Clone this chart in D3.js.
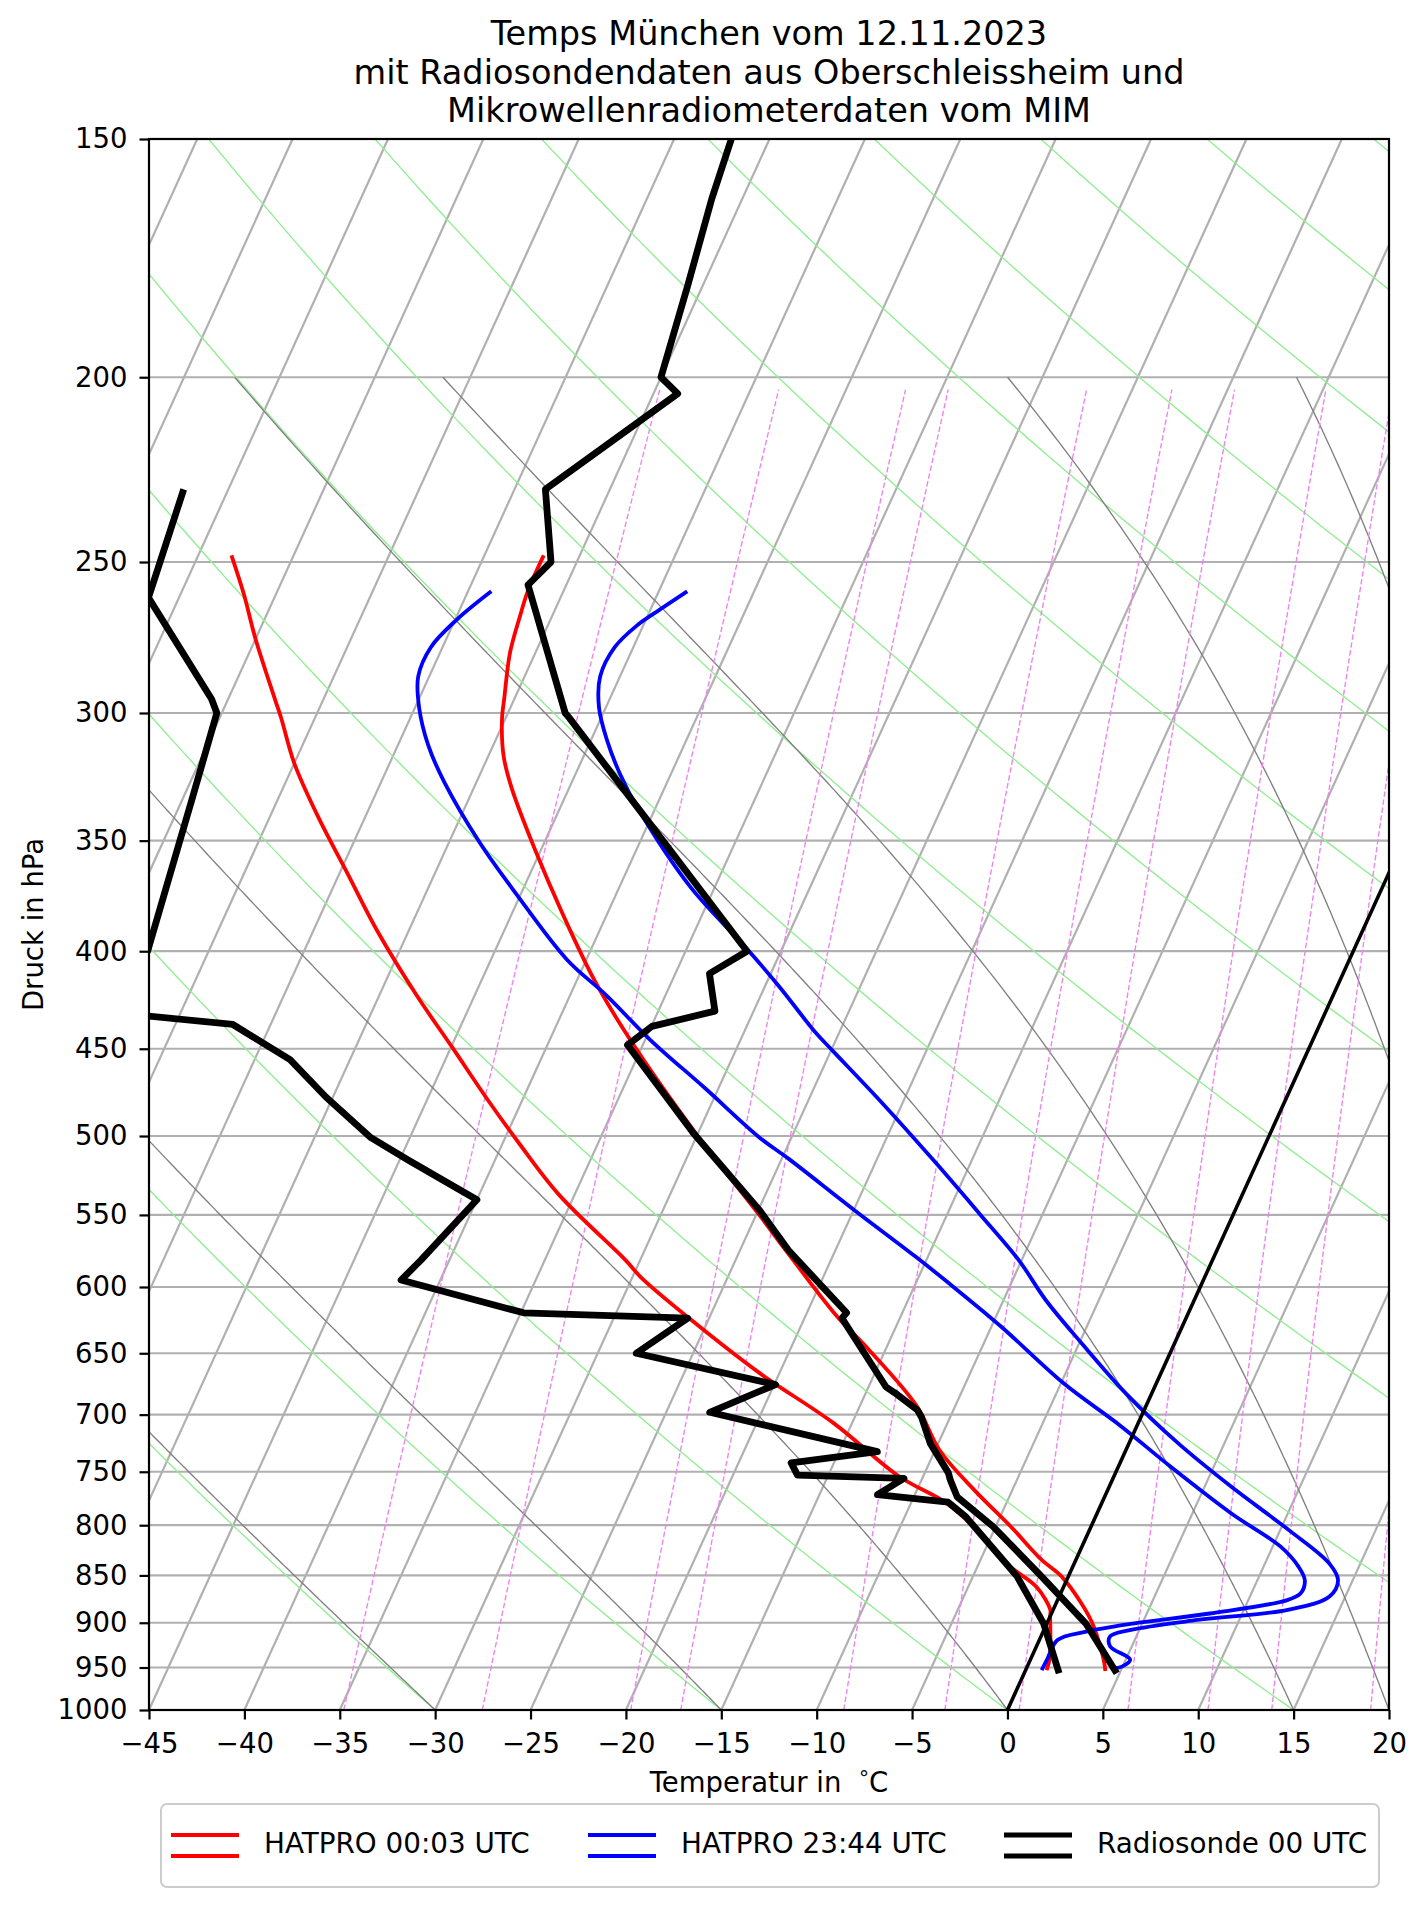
<!DOCTYPE html>
<html><head><meta charset="utf-8">
<script src="https://cdn.jsdelivr.net/npm/d3@7"></script>
<style>
body{margin:0;background:#fff;}
text{font-family:"DejaVu Sans",sans-serif;fill:#000;}
</style>
</head><body>
<svg id="chart" width="1427" height="1907"></svg>
<script>
// ---------------- DATA ----------------
const titleLines = ["Temps München vom 12.11.2023",
  "mit Radiosondendaten aus Oberschleissheim und",
  "Mikrowellenradiometerdaten vom MIM"];
const pressureTicks = [150,200,250,300,350,400,450,500,550,600,650,700,750,800,850,900,950,1000];
const temperatureTicks = [-45,-40,-35,-30,-25,-20,-15,-10,-5,0,5,10,15,20];
const isothermValues = d3.range(-110, 21, 5);
const highlightIsotherm = [0];
const dryAdiabatT0 = [-45,-30,-15,0,15,30,45,60,75,90,105,120,135,150,165,180,195];
const moistAdiabatT0 = [-30,-15,0,15,20,30,35];
const mixingRatiosGkg = [0.2,0.4,0.8,1,2,3,4,6,8,10,14];
const legendLabels = ["HATPRO 00:03 UTC","HATPRO 23:44 UTC","Radiosonde 00 UTC"];
const seriesColors = ["#ff0000","#0000ff","#000000"];

// [pressure hPa, temperature °C]
const sondeTemp = [[956.6,4.85],[900.6,2.03],[851,-1.41],[801,-5.16],[773,-7.73],[757.5,-8.49],[751,-8.76],
  [725,-10.4],[702,-11.51],[696,-11.9],[682,-13.46],[677,-14.08],[623,-18.04],[619,-17.92],[574,-22.46],
  [547,-24.92],[498.5,-30.22],[448,-35.8],[438,-34.97],[430,-32.03],[411,-33.21],[400,-31.78],[343,-39.9],
  [301.6,-46.7],[300,-47.0],[257,-52.01],[250,-51.35],[229,-53.38],[204,-48.73],[200,-50.0],[179.2,-50.78],
  [161.2,-51.6],[150,-52.0]];
const sondeDew = [[956.6,1.83],[900.6,-0.18],[851,-2.69],[792,-6.79],[778,-8.08],[771,-11.96],[756,-10.96],
  [753,-16.62],[742,-17.24],[732,-12.99],[698,-22.72],[675,-19.93],[650,-27.98],[623,-26.12],[619,-34.85],
  [595,-42.06],[581,-41.5],[540,-40.0],[515,-44.5],[501,-47.04],[477,-50.37],[456,-53.14],[437,-56.98],
  [428,-66.5],[415,-63.5],[400,-63.2],[333,-64.5],[300,-65.26],[295,-65.87],[261,-71.6],[229,-72.34]];
const hatpro0003Temp = [[248,-51.89],[259,-51.87],[267,-51.68],[279,-51.33],[295,-50.53],[302,-50.18],[316,-49.2],
  [328.5,-48.01],[354,-45.3],[383,-42.27],[414.5,-39.06],[445,-35.8],[498.5,-30.1],[551,-24.74],[574,-22.6],
  [622,-18.31],[647,-15.89],[693,-12.0],[730.5,-9.78],[767,-6.97],[801,-4.23],[834,-1.81],[851,-0.36],
  [879,1.32],[900.6,2.38],[930,3.48],[945,3.96],[954,4.2]];
const hatpro0003Dew = [[248,-68.26],[260,-66.67],[274,-65.04],[295,-62.55],[302,-61.75],[318.6,-60.02],[340,-57.48],
  [363,-54.71],[390,-51.68],[422,-48.03],[449,-44.96],[479,-41.78],[505,-39.08],[537,-35.79],[581,-30.75],
  [593,-29.55],[622,-26.17],[666,-21.01],[707,-15.99],[754.5,-11.23],[779,-8.13],[811,-5.39],[841,-3.27],
  [862,-1.41],[886,-0.15],[893,0.0],[938,0.96],[953,1.1]];
const hatpro2344Temp = [[259,-43.51],[266,-44.72],[269.6,-45.29],[277,-45.97],[287,-46.04],[298,-45.36],[310,-44.16],
  [323,-42.66],[337,-40.86],[370,-36.3],[400,-31.67],[418,-29.17],[441,-26.28],[451,-24.92],[481,-21.0],
  [516,-16.88],[549,-13.34],[581,-10.14],[609.5,-7.79],[642,-4.89],[682,-1.38],[725,2.61],[764,6.43],
  [805,10.48],[838,13.38],[855,14.23],[872,14.17],[886,12.3],[897,7.8],[908,4.5],[915,3.62],[926,3.86],
  [941,5.23],[949,4.96],[951,4.55]];
const hatpro2344Dew = [[259,-53.78],[268,-54.91],[277,-55.61],[287,-55.58],[298,-54.79],[312,-53.4],[326,-51.7],
  [351,-48.36],[373,-45.28],[404,-41.03],[422,-38.08],[445,-34.76],[472,-30.7],[501,-26.66],[514,-24.63],
  [547,-19.94],[578,-15.7],[597,-13.3],[629.5,-9.48],[674,-4.86],[710,-0.81],[745,2.7],[789,7.07],
  [821,10.42],[841,11.83],[855,12.49],[868.5,12.58],[876,12.0],[890,8.3],[901,4.5],[910,2.2],[919,0.95],
  [941,0.87],[953,0.84]];

// ---------------- LAYOUT ----------------
const L=149, R=1389, T=139, B=1710;
const svg = d3.select("#chart");
const x = d3.scaleLinear().domain([-45,20]).range([L,R]);
const y = d3.scaleLog().domain([1000,150]).range([B,T]);
const skew = Math.tan(30*Math.PI/180)*(R-L)/(B-T);
const sx = (t,p) => x(t) + skew*(B - y(p));
const line = d3.line().x(d=>sx(d[1],d[0])).y(d=>y(d[0]));
const smoothLine = d3.line().x(d=>sx(d[1],d[0])).y(d=>y(d[0])).curve(d3.curveCatmullRom.alpha(0.5));

svg.append("defs").append("clipPath").attr("id","plotclip")
  .append("rect").attr("x",L).attr("y",T).attr("width",R-L).attr("height",B-T);
const plot = svg.append("g").attr("clip-path","url(#plotclip)");

// grid: horizontal
plot.append("g").selectAll("line").data(pressureTicks).join("line")
  .attr("x1",L).attr("x2",R).attr("y1",d=>y(d)).attr("y2",d=>y(d))
  .attr("stroke","#b0b0b0").attr("stroke-width",2.2);
// isotherms
plot.append("g").selectAll("path").data(isothermValues).join("path")
  .attr("d",t=>line([[1000,t],[150,t]]))
  .attr("fill","none").attr("stroke","#b0b0b0").attr("stroke-width",2.2);

// dry adiabats
const kappa = 0.28571;
const dryP = d3.range(1000,149,-5);
plot.append("g").selectAll("path").data(dryAdiabatT0).join("path")
  .attr("d",t0=>line(dryP.map(p=>[p,(t0+273.15)*Math.pow(p/1000,kappa)-273.15])))
  .attr("fill","none").attr("stroke","#90ee90").attr("stroke-width",1.35);

// moist adiabats
const Rd=287.04749, Cp=1004.6662, Lv=2.50084e6, EPS=0.6219569;
const esat = Tk => 6.112*Math.exp(17.67*(Tk-273.15)/(Tk-29.65));
const rsat = (Tk,p) => { const e=esat(Tk); return EPS*e/(p-e); };
const dTdp = (p,Tk) => { const r=rsat(Tk,p); return (Rd*Tk+Lv*r)/(Cp+Lv*Lv*r*EPS/(Rd*Tk*Tk))/p; };
function moistPath(t0){
  let Tk=t0+273.15; const pts=[[1000,t0]]; const dp=-2;
  for(let p=1000;p>200+1e-6;p+=dp){
    const k1=dTdp(p,Tk), k2=dTdp(p+dp/2,Tk+dp/2*k1), k3=dTdp(p+dp/2,Tk+dp/2*k2), k4=dTdp(p+dp,Tk+dp*k3);
    Tk += dp/6*(k1+2*k2+2*k3+k4);
    pts.push([p+dp,Tk-273.15]);
  }
  return pts;
}
plot.append("g").selectAll("path").data(moistAdiabatT0).join("path")
  .attr("d",t0=>line(moistPath(t0)))
  .attr("fill","none").attr("stroke","#808080").attr("stroke-width",1.35);

// mixing ratio lines
const mixP = d3.range(0,41).map(i=>1000-i*(1000-203)/40);
function dewFromW(p,w){ const e=p*w/(EPS+w); const l=Math.log(e/6.112); return 243.5*l/(17.67-l); }
plot.append("g").selectAll("path").data(mixingRatiosGkg).join("path")
  .attr("d",w=>line(mixP.map(p=>[p,dewFromW(p,w/1000)])))
  .attr("fill","none").attr("stroke","#ee82ee").attr("stroke-width",1.35)
  .attr("stroke-dasharray","5.5,2.5");

// data
const series = [
  {d:hatpro0003Temp,c:seriesColors[0],w:3.8,s:true},{d:hatpro0003Dew,c:seriesColors[0],w:3.8,s:true},
  {d:hatpro2344Temp,c:seriesColors[1],w:3.8,s:true},{d:hatpro2344Dew,c:seriesColors[1],w:3.8,s:true},
  {d:sondeTemp,c:seriesColors[2],w:6.8,s:false},{d:sondeDew,c:seriesColors[2],w:6.8,s:false}];
plot.append("g").selectAll("path").data(series).join("path")
  .attr("d",s=>s.s?smoothLine(s.d):line(s.d)).attr("fill","none").attr("stroke",s=>s.c).attr("stroke-width",s=>s.w)
  .attr("stroke-linejoin","round").attr("stroke-linecap","butt");

// 0°C isotherm
plot.append("g").selectAll("path").data(highlightIsotherm).join("path")
  .attr("d",t=>line([[1000,t],[150,t]]))
  .attr("fill","none").attr("stroke","#000").attr("stroke-width",3.6);

// spines
svg.append("rect").attr("x",L).attr("y",T).attr("width",R-L).attr("height",B-T)
  .attr("fill","none").attr("stroke","#000").attr("stroke-width",2.2);

// axes
const xAxis = svg.append("g").attr("transform",`translate(0,${B})`)
  .call(d3.axisBottom(x).tickValues(temperatureTicks).tickSize(9.5).tickPadding(14).tickSizeOuter(0));
const yAxis = svg.append("g").attr("transform",`translate(${L},0)`)
  .call(d3.axisLeft(y).tickValues(pressureTicks).tickFormat(d3.format("d")).tickSize(9.5).tickPadding(12).tickSizeOuter(0));
[xAxis,yAxis].forEach(a=>{
  a.select(".domain").remove();
  a.selectAll(".tick line").attr("stroke","#000").attr("stroke-width",2.2);
  a.selectAll(".tick text").attr("font-size","27.5px").attr("font-family","DejaVu Sans").attr("fill","#000");
});

// labels
const xl = svg.append("text").attr("x",(L+R)/2).attr("y",1792).attr("text-anchor","middle")
  .attr("font-size","27.5px");
xl.append("tspan").text("Temperatur in ");
xl.append("tspan").attr("dx","0.45em").attr("font-size","20px").attr("dy","-0.35em").text("°");
xl.append("tspan").attr("dy","0.26em").text("C");
svg.append("text").attr("transform",`translate(43,${(T+B)/2}) rotate(-90)`).attr("text-anchor","middle")
  .attr("font-size","27.5px").text("Druck in hPa");
svg.append("g").selectAll("text").data(titleLines).join("text")
  .attr("x",(L+R)/2).attr("y",(d,i)=>45+i*38.5).attr("text-anchor","middle")
  .attr("font-size","33.5px").text(d=>d);

// legend
const lg = svg.append("g");
lg.append("rect").attr("x",161).attr("y",1804).attr("width",1218).attr("height",83).attr("rx",6)
  .attr("fill","#fff").attr("stroke","#cccccc").attr("stroke-width",2);
const lx = [171,588,1004];
legendLabels.forEach((lab,i)=>{
  [1835,1856].forEach(yy=>{
    lg.append("line").attr("x1",lx[i]).attr("x2",lx[i]+68).attr("y1",yy).attr("y2",yy)
      .attr("stroke",seriesColors[i]).attr("stroke-width",i===2?5:4);
  });
  lg.append("text").attr("x",lx[i]+93).attr("y",1853).attr("font-size","27.8px").text(lab);
});
</script>
</body></html>
